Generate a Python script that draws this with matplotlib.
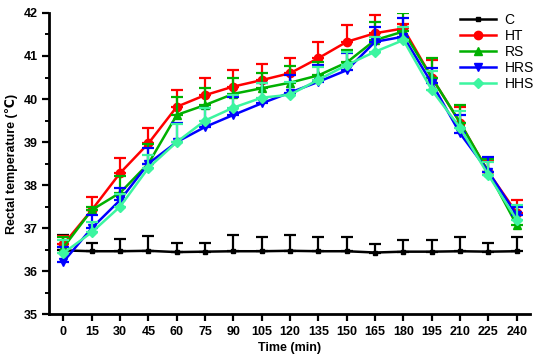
"""
Rectal temperature over time for the five groups
"""

import matplotlib

matplotlib.use("Agg")
import matplotlib.pyplot as plt
import numpy as np

plt.rcParams["font.family"] = ["Liberation Sans", "DejaVu Sans"]

# * Data
TIME = [0, 15, 30, 45, 60, 75, 90, 105, 120, 135, 150, 165, 180, 195, 210, 225, 240]
GROUPS = ["C", "HT", "RS", "HRS", "HHS"]

C_MEAN = [36.48, 36.46, 36.46, 36.47, 36.44, 36.45, 36.46, 36.46, 36.47, 36.46,
          36.46, 36.43, 36.45, 36.45, 36.46, 36.45, 36.46]
C_ERR = [0.35, 0.2, 0.28, 0.35, 0.2, 0.2, 0.38, 0.33, 0.37, 0.33,
         0.33, 0.2, 0.27, 0.27, 0.33, 0.2, 0.33]

HT_MEAN = [36.62, 37.42, 38.28, 38.97, 39.82, 40.09, 40.29, 40.44, 40.6, 40.95,
           41.33, 41.53, 41.64, 40.5, 39.45, 38.3, 37.35]
HT_ERR = [0.2, 0.3, 0.35, 0.35, 0.4, 0.4, 0.38, 0.37, 0.35, 0.38,
          0.39, 0.42, 0.1, 0.4, 0.37, 0.25, 0.3]

RS_MEAN = [36.55, 37.42, 37.82, 38.5, 39.63, 39.86, 40.12, 40.25, 40.38, 40.55,
           40.85, 41.37, 41.57, 40.5, 39.45, 38.3, 37.07]
RS_ERR = [0.25, 0.08, 0.4, 0.45, 0.42, 0.39, 0.36, 0.35, 0.39, 0.3,
          0.3, 0.43, 0.42, 0.45, 0.42, 0.3, 0.45]

HRS_MEAN = [36.22, 37.0, 37.65, 38.5, 39.0, 39.35, 39.63, 39.9, 40.15, 40.4,
            40.67, 41.33, 41.45, 40.37, 39.2, 38.31, 37.3]
HRS_ERR = [0.35, 0.3, 0.28, 0.36, 0.44, 0.45, 0.42, 0.47, 0.41, 0.39,
           0.39, 0.35, 0.43, 0.35, 0.43, 0.35, 0.2]

HHS_MEAN = [36.42, 36.9, 37.5, 38.4, 39.0, 39.5, 39.8, 40.03, 40.1, 40.45,
            40.79, 41.1, 41.37, 40.21, 39.33, 38.23, 37.19]
HHS_ERR = [0.3, 0.25, 0.3, 0.3, 0.42, 0.3, 0.3, 0.35, 0.3, 0.3,
           0.3, 0.35, 0.3, 0.45, 0.4, 0.3, 0.35]

COLORS = ["#000000", "#FF0000", "#00B000", "#0000FF", "#3CF5A0"]
MARKERS = ["s", "o", "^", "v", "D"]
SIZES = [3.5, 6, 6, 6, 5.5]


def main() -> None:
    """Draw and save the chart"""
    fig = plt.figure(figsize=(5.38, 3.59), dpi=100)
    ax = fig.add_axes([0.0917, 0.1253, 0.8933, 0.8385])

    means = [C_MEAN, HT_MEAN, RS_MEAN, HRS_MEAN, HHS_MEAN]
    errs = [C_ERR, HT_ERR, RS_ERR, HRS_ERR, HHS_ERR]
    handles = []
    for i, name in enumerate(GROUPS):
        err = np.array(errs[i])
        cont = ax.errorbar(
            TIME, means[i], yerr=[np.zeros_like(err), err],
            color=COLORS[i], marker=MARKERS[i], markersize=SIZES[i],
            linewidth=1.8, elinewidth=1.6, capsize=4, capthick=1.6,
            label=name, zorder=2 + i,
        )
        # legend shows only the line + marker, no error bar
        handles.append(cont.lines[0])

    ax.set_xlim(-7.5, 247)
    ax.set_ylim(35, 42)
    ax.set_xticks(TIME)
    ax.set_yticks(range(35, 43))
    ax.set_yticks(np.arange(35, 42.01, 0.5), minor=True)
    ax.spines["top"].set_visible(False)
    ax.spines["right"].set_visible(False)
    for side in ["left", "bottom"]:
        ax.spines[side].set_linewidth(2)
    ax.tick_params(axis="both", which="major", direction="out", length=5,
                   width=1.6, labelsize=9)
    ax.tick_params(axis="y", which="minor", direction="out", length=3, width=1.4)
    for lab in ax.get_xticklabels() + ax.get_yticklabels():
        lab.set_fontweight("bold")

    ax.set_xlabel("Time (min)", fontsize=9, fontweight="bold", labelpad=3)
    ax.set_ylabel("Rectal temperature (\u2103)", fontsize=9, fontweight="bold",
                  labelpad=4)

    ax.legend(handles, GROUPS, loc="upper right", bbox_to_anchor=(1.02, 1.02),
              frameon=False, fontsize=10, handlelength=2.6, labelspacing=0.15,
              handletextpad=0.6, borderaxespad=0)

    fig.savefig("out.png", dpi=100)


if __name__ == "__main__":
    main()
